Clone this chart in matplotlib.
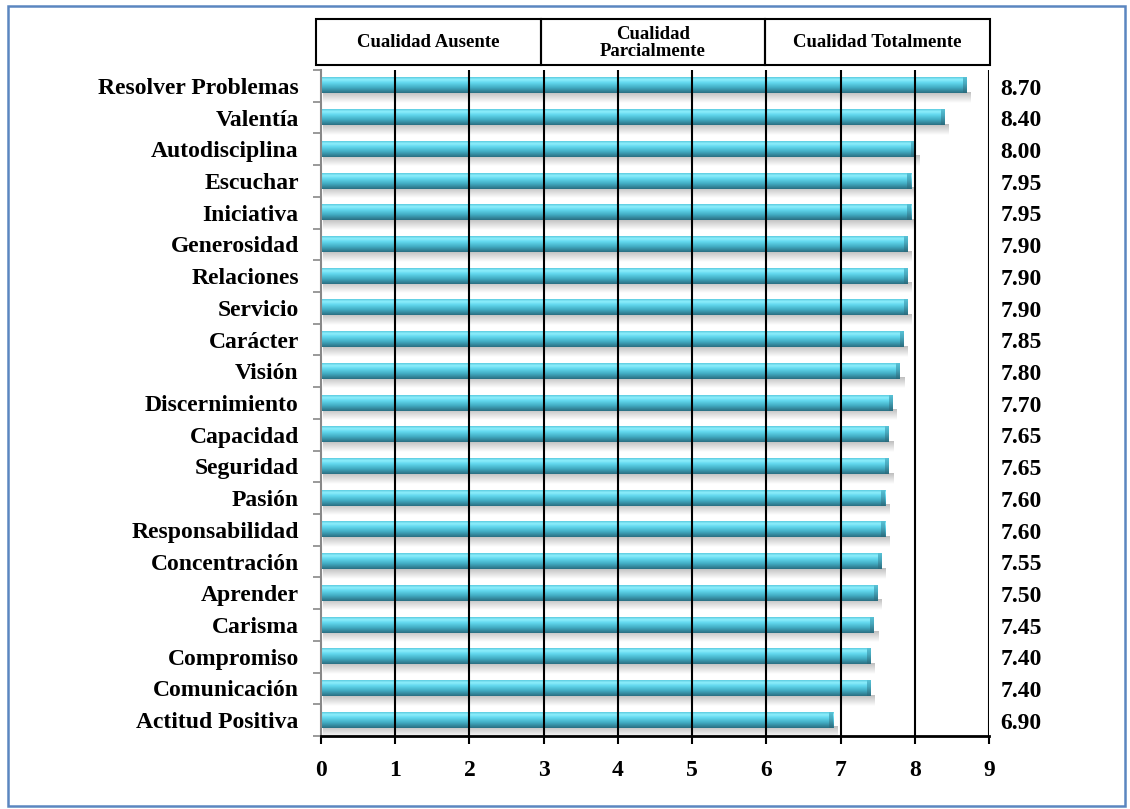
import numpy as np
import matplotlib
matplotlib.use("Agg")
import matplotlib.pyplot as plt
from matplotlib.colors import LinearSegmentedColormap
from matplotlib.patches import Rectangle

categorias = ["Resolver Problemas", "Valentía", "Autodisciplina", "Escuchar", "Iniciativa",
              "Generosidad", "Relaciones", "Servicio", "Carácter", "Visión", "Discernimiento",
              "Capacidad", "Seguridad", "Pasión", "Responsabilidad", "Concentración",
              "Aprender", "Carisma", "Compromiso", "Comunicación", "Actitud Positiva"]
valores = [8.70, 8.40, 8.00, 7.95, 7.95, 7.90, 7.90, 7.90, 7.85, 7.80, 7.70,
           7.65, 7.65, 7.60, 7.60, 7.55, 7.50, 7.45, 7.40, 7.40, 6.90]
grupos = ["Cualidad Ausente", "Cualidad\nParcialmente", "Cualidad Totalmente"]
limites_grupos = [0, 3, 6, 9]

plt.rcParams['font.family'] = ['Liberation Serif', 'DejaVu Serif']
plt.rcParams['font.weight'] = 'bold'

fig = plt.figure(figsize=(11.3, 8.09), dpi=100)
ax = fig.add_axes([321/1130, 1-736/809, (989-321)/1130, (736-70)/809])

# cylinder-like gradient for the bars
cmap = LinearSegmentedColormap.from_list("cyl", [
    (0.0, "#5ccbe0"), (0.15, "#8eeefc"), (0.35, "#62d8ee"),
    (0.65, "#43aec5"), (1.0, "#2a6f82")])
tapa = LinearSegmentedColormap.from_list("cap", [
    (0.0, "#58c2d6"), (0.4, "#48a9be"), (1.0, "#2a6a7c")])
grad = np.linspace(0, 1, 64).reshape(-1, 1)
sombra = LinearSegmentedColormap.from_list("sh", ["#a8a8a8", "#ffffff"])

h = 0.48
y = np.arange(len(categorias))
for yi, v in zip(y, valores):
    # soft shadow under the bar
    ax.imshow(grad, cmap=sombra, aspect='auto', extent=(0.03, v + 0.06, yi + h/2 + 0.3, yi + h/2 - 0.03),
              origin='upper', zorder=1, alpha=0.75, interpolation='bilinear')
    ax.imshow(grad, cmap=cmap, aspect='auto', extent=(0, v, yi + h/2, yi - h/2),
              origin='upper', zorder=2, interpolation='bilinear')
    ax.imshow(grad, cmap=tapa, aspect='auto', extent=(v - 0.05, v, yi + h/2, yi - h/2),
              origin='upper', zorder=2, interpolation='bilinear')
    ax.text(9.15, yi + 0.1, f"{v:.2f}", ha='left', va='center', fontsize=17,
            fontweight='bold', clip_on=False)

ax.set_xlim(0, 9)
ax.set_ylim(len(categorias) - 0.5, -0.5)

for xv in range(1, 10):
    ax.axvline(xv, color='black', lw=1.5, zorder=3)

ax.set_xticks(range(10))
ax.set_xticklabels([str(i) for i in range(10)], fontsize=17, fontweight='bold')
ax.tick_params(axis='x', length=6, width=1.5, color='black', pad=11, direction='out')

ax.set_yticks(y)
ax.set_yticklabels(categorias, fontsize=17, fontweight='bold')
ax.set_yticks(np.arange(len(categorias) + 1) - 0.5, minor=True)
ax.tick_params(axis='y', which='major', length=0, pad=16)
ax.tick_params(axis='y', which='minor', length=6, width=1.2, color='#888888')

ax.spines['top'].set_visible(False)
ax.spines['right'].set_visible(False)
ax.spines['left'].set_color('#888888')
ax.spines['left'].set_linewidth(1.5)
ax.spines['bottom'].set_color('black')
ax.spines['bottom'].set_linewidth(2)

# header boxes
hax = fig.add_axes([316/1130, 1-65/809, (990-316)/1130, 46/809])
hax.set_xlim(0, 9)
hax.set_ylim(0, 1)
hax.axis('off')
for i, g in enumerate(grupos):
    x0, x1 = limites_grupos[i], limites_grupos[i + 1]
    hax.add_patch(Rectangle((x0, 0), x1 - x0, 1, fill=False, edgecolor='black', lw=1.5,
                            clip_on=False))
    hax.text((x0 + x1) / 2, 0.48, g, ha='center', va='center', fontsize=13.5,
             fontweight='bold', linespacing=0.95)

# outer blue frame
fig.add_artist(Rectangle((8/1130, 3/809), 1117/1130, 800/809, transform=fig.transFigure,
                         fill=False, edgecolor='#5b86c0', lw=1.8))

fig.savefig("out.png", dpi=100)
